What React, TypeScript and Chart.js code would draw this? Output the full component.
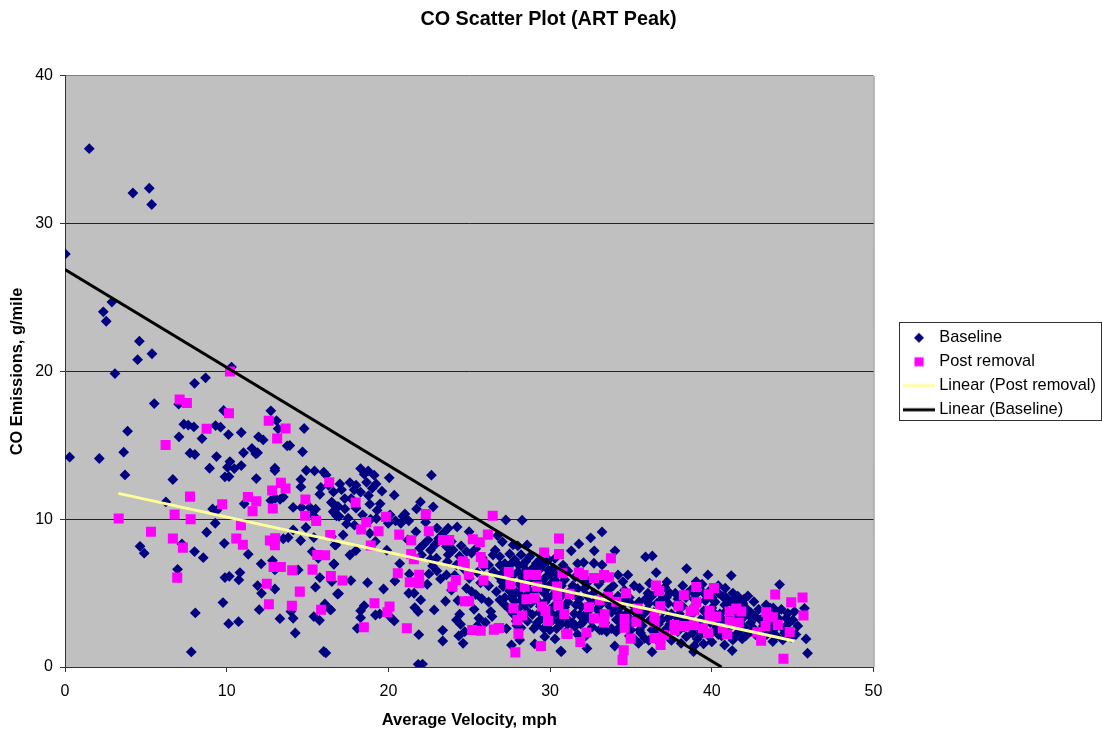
import React, { useEffect, useRef } from "react";
import { Chart, registerables } from "chart.js";

Chart.register(...registerables);

type P = [number, number];

const TITLE = "CO Scatter Plot (ART Peak)";
const X_TITLE = "Average Velocity, mph";
const Y_TITLE = "CO Emissions, g/mile";
const SERIES_NAMES = ["Baseline", "Post removal", "Linear (Post removal)", "Linear (Baseline)"];
const FONT = "'Liberation Sans', Arial, sans-serif";

const baselineSlow: P[] = [
  [1.5,35.08],[4.2,32.08],[5.21,32.4],[5.36,31.3],[0.02,27.95],[2.9,24.7],[2.37,24.04],[2.55,23.4],[4.6,22.05],[5.38,21.2],[4.49,20.8],[10.3,20.3],
  [3.09,19.86],[8.01,19.2],[8.69,19.57],[5.52,17.83],[7.03,17.79],[9.81,17.36],[7.35,16.43],[7.62,16.37],[7.97,16.25],[9.31,16.34],[9.62,16.23],
  [3.87,15.96],[7.05,15.58],[8.47,15.46],[3.63,14.54],[7.73,14.47],[8.03,14.38],[9.37,14.24],[0.29,14.2],[2.12,14.11],[8.94,13.45],[3.71,13.0],
  [9.89,12.87],[6.67,12.69],[6.24,11.17],[9.13,10.7],[9.29,9.73],[8.76,9.12],[9.85,8.37],[4.64,8.17],[4.9,7.7],[7.23,8.33],[8.01,7.81],[8.55,7.4],
  [6.96,6.61],[9.89,6.05],[9.77,4.36],[8.06,3.66],[7.81,1.02],[9.4,10.6],
];

const baselineMid: P[] = [
  [12.73,17.34],[13.08,16.68],[13.18,16.12],[14.79,16.14],[10.11,15.73],[10.9,15.87],[11.97,15.58],[12.26,15.37],[11.56,14.79],[13.74,14.97],[13.9,14.99],
  [14.69,14.56],[11.04,14.5],[11.91,14.5],[11.8,14.42],[10.2,13.9],[10.9,13.63],[10.05,13.52],[10.47,13.43],[12.98,13.45],[12.98,13.3],[14.92,13.3],[15.43,13.27],
  [16.0,13.18],[16.15,13.0],[10.14,12.89],[11.83,12.75],[14.59,12.69],[14.59,12.19],[15.82,12.15],[15.76,11.69],[13.5,11.5],[13.3,11.35],[13.0,11.42],[12.73,11.26],
  [11.08,11.04],[14.11,10.8],[14.63,10.79],[15.14,10.8],[15.5,10.68],[15.3,10.45],[15.4,10.2],[14.11,9.28],[14.9,9.44],[13.8,8.76],[13.5,8.68],[14.57,8.56],[15.39,8.76],
  [15.29,7.81],[15.66,7.36],[11.33,7.63],[12.13,6.98],[12.83,7.2],[14.42,6.57],[12.98,6.57],[10.82,6.39],[10.16,6.14],[10.75,5.89],[15.76,6.05],[11.91,5.51],[12.98,5.28],
  [12.15,4.99],[15.49,5.4],[12.01,3.88],[13.29,3.27],[10.12,2.93],[10.73,3.07],[14.11,3.3],[13.97,3.75],[15.39,3.41],[15.74,3.16],[14.24,2.3],[16.13,0.95],[16.0,1.05],
];

const baselineUpper: P[] = [
  [16.07,4.27],[16.38,3.9],[16.44,3.86],[16.5,11.15],[16.83,10.86],[16.63,10.45],[16.95,10.2],[16.63,6.98],[16.69,8.26],[16.5,5.78],[16.85,4.94],[16.92,4.97],
  [18.28,13.43],[18.75,13.27],[18.5,13.05],[19.12,12.98],[20.05,12.8],[17.62,12.48],[17,12.39],[18.65,12.5],[19.24,12.39],[17.88,11.99],[18.28,11.83],[18.77,11.6],[20.36,11.63],
  [22.66,12.98],[18.85,11.02],[19.49,11.04],[21.98,11.17],[21.74,10.7],[22.77,10.84],[16.48,11.13],[16.9,10.86],[17.31,10.7],[16.59,10.52],[16.79,10.23],[17.51,10.07],[17.41,9.68],
  [21.02,10.36],[19.26,10.05],[19.99,9.73],[20.44,9.89],[21.26,9.89],[20.77,9.73],[27.26,9.95],[28.27,9.93],[21.7,9.16],[23.69,9.39],[24.25,9.48],[23.38,9.05],[24.99,9.16],
  [18.85,9.05],[17.2,8.94],[16.48,8.82],[16.75,8.26],[27.05,8.47],[28.58,8.26],[27.71,8.26],[22.46,8.6],[22.15,8.26],[21.94,8.04],[22.87,8.26],[24,7.92],[23.59,8.15],[22.05,7.58],
  [17.62,7.58],[17.99,7.88],[16.63,6.95],[22.97,7.36],[22.73,6.84],[23.65,7.13],[24.21,6.91],[25.14,7.7],[24.83,7.81],[17.68,5.85],[18.71,5.71],[20.4,5.82],[23.22,5.96],[23.59,6.23],
  [19.7,5.28],[21.26,4.99],[21.59,4.99],[22,4.54],[23.53,4.45],[24.83,5.33],[25.14,5.1],[25.77,4.63],[18.5,4.15],[18.28,3.81],[18.28,3.34],[19.2,3.52],[19.47,3.59],[20.09,3.41],[20.36,3.12],
  [21.63,4.02],[21.84,3.75],[22.83,3.86],[24.41,3.57],[24.21,3.18],[24.46,2.89],[18.07,2.62],[23.36,2.48],[23.36,1.76],[21.88,2.19],[24.35,2.1],[24.62,1.6],[24.72,2.39],[21.84,0.18],[22.11,0.2],
  [17.1,12.0],[17.3,11.4],[18.0,12.3],[16.3,12.3],[16.6,11.85],[19.0,12.1],[19.6,11.9],[20.1,10.3],[18.4,10.3],[18.0,10.75],[17.9,9.6],[19.2,8.5],[19.9,7.9],[20.7,7.0],[21.3,6.3],[22.6,7.9],
  [23.1,8.7],[23.9,8.5],[24.5,8.2],[25.4,8.0],[25.8,7.4],[24.4,7.5],[23.0,6.5],[22.4,5.6],[23.9,5.2],[24.3,4.5],[25.3,3.9],[25.6,3.3],[25.5,2.8],
];

const baselineDenseA: P[] = [
  [26.6,7.9],[26.47,7.58],[26.89,7.47],[27.2,7.0],[27.5,7.65],[27.81,7.25],[28.05,6.9],[28.33,6.91],[28.74,7.47],[29.15,7.02],[29.35,6.6],[29.6,6.95],[29.9,7.25],[30.2,6.7],[30.5,6.3],[30.8,6.9],
  [26.5,6.45],[26.8,6.15],[27.1,6.4],[27.35,5.9],[27.7,6.2],[28.02,6.46],[28.3,6.05],[28.6,5.6],[28.9,5.95],[29.25,5.4],[29.5,5.8],[29.8,5.3],[30.1,5.7],[30.4,5.2],[30.7,5.5],
  [26.68,5.1],[27.09,5.44],[26.89,4.54],[27.2,4.2],[27.5,5.15],[27.6,4.7],[27.9,5.05],[28.2,4.5],[28.5,4.8],[28.8,4.3],[29.1,4.65],[29.4,4.1],[29.7,4.4],[30,3.9],[30.3,4.2],[30.6,3.7],[30.9,4.05],
  [27.45,3.95],[27.7,3.6],[28,3.9],[28.3,3.4],[28.6,3.1],[28.9,3.55],[29.2,3.0],[29.5,3.3],[29.8,2.8],[30.1,3.1],[30.4,2.6],[30.7,2.9],[31,2.4],[29.15,2.8],[29.98,2.51],[29.67,2.05],[30.3,1.9],
  [26.33,3.75],[26.41,3.41],[26,3.02],[27.61,1.49],[28.12,1.83],[29.05,1.56],[30.66,1.08],[30.69,1.04],[27.95,2.8],[27.3,2.6],[26.75,8.9],[28.0,8.2],[27.4,6.75],[28.55,6.5],[29.0,6.3],[29.75,6.1],
  [31.3,5.2],[31.7,7.0],[33.21,9.14],[32.51,8.74],[31.78,8.33],[31.31,7.86],[32.73,7.86],[34.01,7.86],[35.9,7.45],[36.32,7.52],[32.07,7.07],[32.71,7.02],[33.21,6.91],[31.1,6.5],[31.55,6.1],[30.9,5.9],
];

const baselineDenseB: P[] = [
  [38.44,6.66],[36.56,6.39],[39.76,6.23],[41.2,6.19],[37.22,5.76],[34.2,6.23],[34.81,6.23],[34.5,5.78],[44.19,5.58],[39.04,5.78],[35.53,5.33],[36.15,5.67],[36.05,4.99],[40.83,5.33],[42.23,4.81],
  [42.6,4.42],[43.36,4.2],[37.74,4.99],[40.68,4.76],[41.51,4.54],[41.92,4.31],[45.73,3.97],[45.11,3.75],[44.7,3.63],[45.01,3.18],[45.32,2.78],[45.83,1.9],[45.92,0.93],[41.26,1.11],[39.49,1.56],
  [36.3,1.02],[38.87,1.04],[38.93,1.44],[32.28,1.26],[34,1.42],[35.47,1.6],[41.88,1.9],[43.77,1.72],[44.39,1.83],[41.3,1.83],[40.79,1.49],[38.42,2.05],[35.84,1.94],[33.06,2.51],[31.52,2.73],
  [31.83,3.52],[31.93,4.09],[34.09,2.39],[35.53,2.51],
  [31.4,4.9],[31.8,4.6],[32.1,5.3],[32.4,5.8],[32.7,5.0],[33.0,5.6],[33.3,6.0],[33.6,5.2],[33.9,5.5],[34.2,4.8],[34.6,5.2],[34.9,4.7],[35.2,5.5],[35.0,4.3],[35.5,4.4],[35.9,4.6],
  [32.0,3.0],[32.3,3.7],[32.6,2.7],[32.9,3.9],[33.2,4.3],[33.5,2.4],[33.8,3.7],[34.1,3.2],[34.4,4.1],[34.7,3.6],[35.0,2.9],[35.4,3.4],[35.7,2.8],[36.0,3.9],[36.3,2.5],[36.6,4.3],[36.9,3.2],
  [37.2,4.7],[37.5,3.6],[37.8,4.2],[38.1,3.0],[38.4,4.7],[38.7,3.5],[39.0,4.9],[39.3,3.2],[39.6,4.5],[39.9,3.0],[40.2,4.4],[40.5,3.6],[40.8,4.2],[41.1,2.7],[41.4,3.4],[41.7,4.0],[42.0,2.7],
  [42.3,3.5],[42.6,2.6],[42.9,3.9],[43.2,2.8],[43.5,3.6],[43.8,2.5],[44.1,3.3],[44.4,2.6],[44.7,2.9],[36.7,5.1],[37.1,5.4],[38.2,5.5],[38.7,5.2],[39.4,5.6],[39.9,5.2],[40.4,5.5],[41.3,5.0],
  [37.0,2.3],[37.4,2.9],[37.9,2.4],[38.3,2.7],[38.8,2.3],[39.2,2.6],[39.8,2.1],[40.2,2.5],[40.6,2.1],[41.0,2.3],[41.5,2.2],[42.1,2.1],[42.7,2.2],[43.4,2.2],[44.0,2.1],[45.2,2.2],[44.9,2.0],
  [31.2,3.1],[31.5,3.6],[31.7,2.2],[32.2,2.1],[32.5,4.3],[33.0,3.4],[33.4,3.0],[34.3,2.7],[34.9,2.1],[35.3,1.8],[36.1,1.8],[36.8,1.6],[37.5,1.8],[38.1,1.6],[39.1,1.9],[40.0,1.7],[40.3,3.2],
  [41.0,3.2],[41.9,3.3],[42.4,3.0],[43.0,3.2],[43.7,3.1],[44.3,3.9],[37.3,3.3],[38.0,3.6],[38.9,4.1],[39.5,3.8],[40.1,3.7],[40.7,2.9],
];

const baselineDenseC: P[] = [
  [26.2,6.9],[26.9,6.9],[27.6,7.0],[28.2,7.6],[28.5,7.15],[28.9,6.65],[29.4,7.3],[29.9,6.55],[30.3,7.35],[27.0,5.8],[27.5,6.35],[28.1,5.6],[28.4,6.4],[28.75,6.15],[29.1,5.7],[29.6,5.55],[30.0,6.25],[30.3,5.85],
  [27.2,4.7],[27.8,4.45],[28.1,4.95],[28.4,4.2],[28.7,5.2],[29.0,4.95],[29.3,4.4],[29.6,5.05],[29.9,4.7],[30.2,4.9],[30.5,4.6],[30.8,4.9],[31.1,4.4],[31.4,5.5],[31.7,5.3],[32.0,5.9],[32.3,4.8],
  [27.9,3.1],[28.2,2.65],[28.6,3.75],[29.0,2.6],[29.35,3.7],[29.6,2.6],[29.9,3.55],[30.2,3.5],[30.5,3.1],[30.8,3.4],[31.1,2.9],[31.4,3.0],[31.6,4.2],[31.9,2.9],[32.2,3.4],[32.5,3.2],[32.8,4.5],[33.1,3.7],
  [33.4,4.5],[33.7,4.1],[34.0,4.0],[34.3,3.6],[34.6,4.5],[34.9,3.3],[35.2,3.8],[35.5,3.0],[35.8,3.6],[36.1,4.3],[36.4,3.7],[36.7,2.9],[37.0,3.8],[37.3,4.3],[37.6,2.6],[37.9,3.3],[38.2,4.1],[38.5,3.2],
  [38.8,3.8],[39.1,4.4],[39.4,2.7],[39.7,3.4],[40.0,4.0],[40.3,2.7],[40.6,3.3],[40.9,3.8],[41.2,4.4],[41.5,2.9],[41.8,3.7],[42.1,4.0],[42.4,3.7],[42.7,3.4],[43.0,2.5],[43.3,3.4],[43.6,4.0],[43.9,2.9],
  [36.3,4.8],[36.9,4.6],[37.4,5.0],[37.9,4.6],[38.5,5.0],[38.9,4.6],[39.5,5.0],[40.0,4.7],[40.4,5.0],[40.9,4.7],[41.6,4.8],[42.0,4.6],[43.8,4.0],[44.0,3.7],[44.6,3.3],[33.2,2.5],[33.8,2.6],[34.4,3.0],
  [35.0,2.5],[35.6,2.3],[36.2,3.2],[36.6,2.2],[37.2,2.6],[38.6,2.9],[39.4,2.3],[40.4,2.2],[41.8,2.5],[42.4,2.4],[43.6,2.5],[44.5,2.3],[26.6,2.6],[26.2,4.4],[26.2,5.5],[25.7,5.7],[25.5,6.4],[25.9,6.8],[25.4,4.9],
  [19.3,10.6],[18.9,10.0],[17.7,11.4],[20.9,10.2],[22.3,9.8],[23.0,9.4],[22.6,7.3],[21.2,8.6],[22.5,6.3],[23.7,7.6],[24.7,6.6],[24.1,6.2],[25.0,6.0],
];

const postRemovalSlow: P[] = [
  [7.09,18.1],[7.54,17.86],[10.14,17.18],[12.6,16.66],[13.64,16.14],[8.76,16.12],[13.12,15.46],[6.22,15.03],[16.34,12.5],[13.35,12.46],[13.64,12.08],[12.81,11.94],[11.31,11.51],[7.73,11.53],
  [11.83,11.22],[14.87,11.33],[9.72,11.02],[12.85,10.72],[11.6,10.54],[6.78,10.32],[14.85,10.23],[7.77,10.0],[3.32,10.05],[15.53,9.89],[10.88,9.59],[5.32,9.16],[16.4,8.94],[6.67,8.69],[10.59,8.69],
  [13,8.71],[12.67,8.56],[12.98,8.24],[11,8.28],[7.29,8.08],[15.6,7.58],[16.09,7.56],[12.9,6.77],[13.35,6.77],[14.05,6.55],[15.31,6.59],[16.44,6.16],[6.94,6.05],[12.48,5.64],[14.52,5.1],[12.61,4.24],
  [14.03,4.15],[15.84,3.88],[17.16,5.85],[10.2,20.0],
];

const postRemovalMid: P[] = [
  [17.97,11.13],[19.84,10.16],[18.63,9.82],[18.32,9.3],[19.39,9.19],[20.67,8.96],[21.41,8.58],[22.5,9.19],[22.31,10.36],[26.45,10.23],[18.91,8.22],[23.38,8.6],[23.76,8.6],[25.22,8.65],[25.65,8.44],
  [26.15,8.96],[21.41,7.65],[21.57,7.29],[24.6,7.16],[24.72,6.98],[25.71,7.45],[25.86,7.02],[20.58,6.34],[21.9,6.25],[21.32,5.73],[21.9,5.67],[24.17,5.89],[23.96,5.44],[24.97,6.25],[25.88,5.85],
  [27.44,6.43],[28.66,6.25],[29.15,6.23],[27.55,5.62],[28.43,5.44],[29.2,5.44],[30.55,8.69],[29.63,7.74],[30.55,7.65],[30.76,6.34],[30.43,5.44],[30.45,4.85],[19.14,4.31],[20.07,4.09],[19.94,3.7],
  [18.48,2.69],[21.14,2.62],[24.72,4.45],[24.99,4.45],[28.54,4.58],[29.05,4.67],[27.73,3.97],[28.27,3.48],[27.98,3.18],[29.5,4.09],[29.71,3.79],[30.51,4.18],[30.88,3.59],[29.87,3.12],[25.18,2.51],
  [25.71,2.46],[26.52,2.53],[26.85,2.64],[28.04,2.26],[31.0,2.26],[29.44,1.42],[27.85,0.99],
];

const postRemovalFast: P[] = [
  [33.76,7.36],[31.78,6.39],[32.07,6.23],[32.71,6.03],[33.33,6.23],[33.64,6.07],[36.54,5.51],[36.75,5.15],[39.04,5.42],[40.13,5.35],[39.8,4.92],[38.27,4.85],[43.92,4.9],[45.61,4.7],[44.91,4.38],
  [34.69,4.99],[39.04,4.38],[37.94,4.15],[36.81,4.11],[35.41,3.95],[38.91,3.86],[38.69,3.75],[39.86,3.81],[41.1,3.75],[41.51,3.95],[41.82,3.75],[43.36,3.7],[43.47,3.41],[45.67,3.48],[32.4,4.04],
  [33.06,4.54],[33.58,4.76],[34.09,4.42],[31.2,4.95],[32.71,3.3],[33.37,3.57],[33.33,3.02],[34.61,3.25],[34.61,2.66],[35.33,3.07],[36.46,3.41],[36.46,3.02],[37.7,2.84],[37.7,2.51],[38.32,2.78],
  [38.89,2.84],[39.45,2.62],[39.76,2.28],[40.27,3.41],[39.86,3.36],[41.1,3.07],[41.67,3.0],[40.68,2.62],[40.95,2.21],[42.81,2.35],[43.32,2.78],[43.77,3.36],[44.08,2.84],[44.81,2.37],[43.05,1.78],
  [44.43,0.56],[31.08,2.23],[32.24,2.33],[31.87,1.69],[34.98,1.92],[36.46,1.96],[37.02,2.17],[36.83,1.49],[34.55,1.13],[34.48,0.47],
];

const baselineTrend: P[] = [[0, 26.9], [40.6, 0]];
const postRemovalTrend: P[] = [[3.3, 11.75], [45.1, 1.76]];

const X_MAX = 50;
const Y_MAX = 40;
const MAJOR_STEP = 10;

const toPoints = (rows: P[]) => rows.map(([x, y]) => ({ x, y }));

function marker(kind: string) {
  const c = document.createElement("canvas");
  c.width = 32;
  c.height = 14;
  const g = c.getContext("2d")!;
  if (kind === "diamond") {
    g.fillStyle = "#000080";
    g.beginPath();
    g.moveTo(16, 2); g.lineTo(21, 7); g.lineTo(16, 12); g.lineTo(11, 7);
    g.closePath();
    g.fill();
  } else if (kind === "square") {
    g.fillStyle = "#FF00FF";
    g.fillRect(11.5, 2.5, 9, 9);
  } else {
    g.fillStyle = kind;
    g.fillRect(0, 5.5, 32, 3);
  }
  return c;
}

const frame = {
  id: "frame",
  beforeDraw(chart: any) {
    const { ctx, chartArea: a, width, height, legend, titleBlock } = chart;
    ctx.save();
    ctx.fillStyle = "#fff";
    ctx.fillRect(0, 0, width, height);
    ctx.fillStyle = "#C0C0C0";
    ctx.fillRect(a.left, a.top, a.right - a.left, a.bottom - a.top);
    ctx.strokeStyle = "#808080";
    ctx.lineWidth = 1;
    ctx.beginPath();
    ctx.moveTo(a.right + 0.5, a.top);
    ctx.lineTo(a.right + 0.5, a.bottom);
    ctx.stroke();
    ctx.strokeStyle = "#333";
    ctx.strokeRect(899.5, 322.5, 202, 98);
    ctx.restore();
    legend.left = 899.4;
    legend.right = 1102;
    legend.top = 322;
    legend.bottom = 600;
    titleBlock.left = 0;
    titleBlock.right = 1097;
  },
};

export default function App() {
  const ref = useRef<HTMLCanvasElement>(null);
  useEffect(() => {
    document.body.style.margin = "0";
    const icons = [marker("diamond"), marker("square"), marker("#FFFF99"), marker("#000000")];
    const chart = new Chart(ref.current!, {
      type: "scatter",
      data: {
        datasets: [
          {
            label: SERIES_NAMES[0],
            data: toPoints([...baselineSlow, ...baselineMid, ...baselineUpper, ...baselineDenseA, ...baselineDenseB, ...baselineDenseC]),
            pointStyle: "rectRot", pointRadius: 5.4, backgroundColor: "#000080", borderColor: "#000080", borderWidth: 0, order: 4,
          },
          {
            label: SERIES_NAMES[1],
            data: toPoints([...postRemovalSlow, ...postRemovalMid, ...postRemovalFast]),
            pointStyle: "rect", pointRadius: 7.1, backgroundColor: "#FF00FF", borderColor: "#FF00FF", borderWidth: 0, order: 3,
          },
          {
            label: SERIES_NAMES[2],
            data: toPoints(postRemovalTrend),
            showLine: true, pointRadius: 0, borderColor: "#FFFF99", backgroundColor: "#FFFF99", borderWidth: 3, order: 2,
          },
          {
            label: SERIES_NAMES[3],
            data: toPoints(baselineTrend),
            showLine: true, pointRadius: 0, borderColor: "#000000", backgroundColor: "#000000", borderWidth: 3, order: 1,
          },
        ],
      } as any,
      options: {
        responsive: false,
        animation: false,
        layout: { padding: { left: 0, right: 22, top: 0, bottom: 0 } },
        plugins: {
          title: {
            display: true, text: TITLE, color: "#000",
            font: { family: FONT, size: 19.8, weight: "bold" },
            padding: { top: 8, bottom: 44.2 },
          },
          legend: {
            display: true, position: "right", align: "start",
            labels: {
              usePointStyle: true, pointStyleWidth: 24, boxWidth: 24, boxHeight: 14, padding: 7.6, color: "#000",
              font: { family: FONT, size: 16.4 },
              generateLabels: (c: any) =>
                c.data.datasets.map((d: any, i: number) => ({
                  text: d.label, datasetIndex: i, pointStyle: icons[i], fontColor: "#000",
                  lineWidth: 0, strokeStyle: "transparent", fillStyle: "transparent",
                })),
            },
          },
          tooltip: { enabled: false },
        },
        scales: {
          x: {
            type: "linear", min: 0, max: X_MAX,
            afterFit: (s: any) => { s.height = 67; },
            border: { color: "#333", width: 1 },
            grid: { display: true, drawOnChartArea: false, drawTicks: true, tickLength: 5, color: "#333" },
            ticks: { stepSize: MAJOR_STEP, color: "#000", padding: 10, maxRotation: 0, font: { family: FONT, size: 16 } },
            title: { display: true, text: X_TITLE, color: "#000", padding: { top: 0, bottom: 4 }, font: { family: FONT, size: 16.6, weight: "bold" } },
          },
          y: {
            type: "linear", min: 0, max: Y_MAX,
            afterFit: (s: any) => { s.width = 65; },
            border: { color: "#333", width: 1 },
            grid: { color: (c: any) => (c.tick && c.tick.value === Y_MAX ? "#808080" : "#222"), lineWidth: 1, tickLength: 5, tickColor: "#333" },
            ticks: { stepSize: MAJOR_STEP, color: "#000", padding: 7, font: { family: FONT, size: 16 } },
            title: { display: true, text: Y_TITLE, color: "#000", padding: { top: 8, bottom: 0 }, font: { family: FONT, size: 16.4, weight: "bold" } },
          },
        },
      } as any,
      plugins: [frame],
    });
    return () => chart.destroy();
  }, []);
  return <canvas ref={ref} width={1102} height={734} style={{ display: "block" }} />;
}
